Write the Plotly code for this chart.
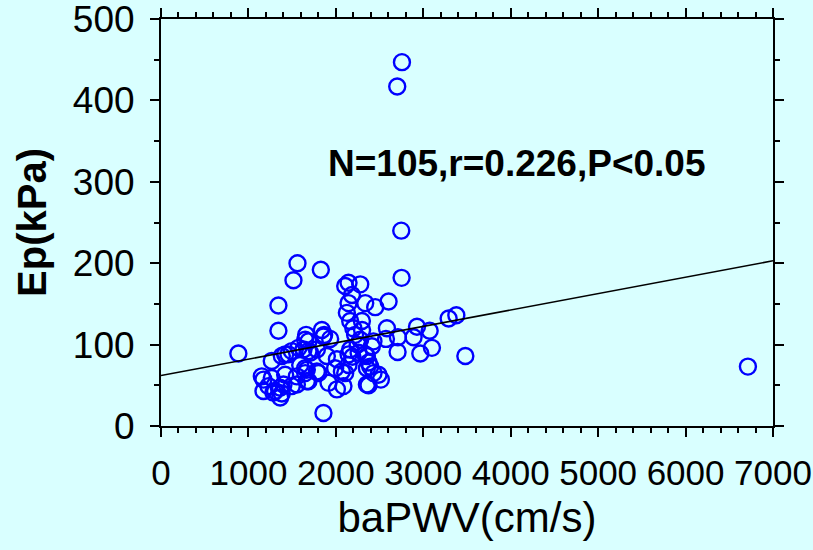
import plotly.graph_objects as go

# ---- data ----
bapwv = [
    2756, 2702, 2748, 6713, 885, 1858, 3481, 1561, 1828, 1515, 1343, 1343, 2752,
    2107, 2145, 2279, 2184, 2145, 2336, 2450, 2126, 2298, 2164, 2603,
    2584, 2928, 3073, 3290, 3378, 2889, 2710, 2573, 2706, 2966, 3099,
    1660, 1840, 1866, 1935, 1687, 1573, 1496, 1420, 1382, 1630, 1706, 1783, 1267,
    1897, 2012, 1458, 1687, 1649, 1858,
    2145, 2164, 2278, 2412, 2355, 2374, 2145, 2336, 2393, 2220, 2250, 2300, 2190,
    2430, 2200, 2260,
    1592, 1649, 1783, 1992, 2107, 2355, 2431, 2488, 2515, 2374, 1916, 2012, 2087,
    1420, 1554, 1649, 1668, 1496, 1401, 1153, 1172, 1172, 1229, 1305, 1363, 1382,
    1267, 1363, 1286, 1668, 1554, 1687, 1801, 2069, 2355,
]
ep = [
    447, 417, 240, 73, 89, 16, 86, 200, 192, 179, 148, 117, 182,
    172, 176, 174, 161, 151, 151, 146, 139, 129, 129, 153,
    120, 122, 117, 132, 136, 109, 109, 107, 91, 89, 96,
    112, 118, 112, 107, 104, 96, 92, 88, 86, 94, 90, 94, 80,
    86, 82, 88, 92, 106, 110,
    88, 94, 106, 98, 86, 78, 75, 88, 73, 112, 100, 118, 85,
    104, 120, 90,
    75, 71, 67, 71, 65, 71, 65, 63, 57, 50, 53, 45, 49,
    63, 61, 65, 55, 49, 51, 61, 57, 43, 49, 43, 35, 40,
    59, 47, 41, 69, 51, 55, 65, 67, 51,
]
fit_x = [0, 7000]
fit_y = [62, 203]
x_ticks = [0, 1000, 2000, 3000, 4000, 5000, 6000, 7000]
y_ticks = [0, 100, 200, 300, 400, 500]
stats_text = "N=105,r=0.226,P&lt;0.05"

FONT = "Liberation Sans, Arial, sans-serif"
BG = "#D9FFFF"

fig = go.Figure()
fig.add_trace(go.Scatter(
    x=bapwv, y=ep, mode="markers",
    marker=dict(symbol="circle-open", size=16, color="#0000FF",
                line=dict(width=2.4, color="#0000FF")),
    showlegend=False, cliponaxis=False,
))
fig.add_trace(go.Scatter(
    x=fit_x, y=fit_y, mode="lines",
    line=dict(color="black", width=1.6), showlegend=False,
))

fig.add_annotation(
    x=4076, y=323, xref="x", yref="y", text="<b>" + stats_text + "</b>",
    showarrow=False, xanchor="center", yanchor="middle",
    font=dict(family=FONT, size=37, color="black"),
)

axis_common = dict(
    showline=True, linecolor="black", linewidth=2, mirror="ticks",
    ticks="outside", ticklen=9, tickwidth=2, tickcolor="black",
    showgrid=False, zeroline=False, ticklabeloverflow="allow",
)

fig.update_xaxes(
    range=[0, 7000], tickvals=x_ticks, ticktext=[str(v) for v in x_ticks],
    tickfont=dict(family=FONT, size=35, color="black"),
    minor=dict(dtick=200, ticks="outside", ticklen=5, tickwidth=2, tickcolor="black"),
    ticklabelstandoff=6,
    title=dict(text="baPWV(cm/s)", font=dict(family=FONT, size=42, color="black"), standoff=12),
    **axis_common,
)
fig.update_yaxes(
    range=[0, 500], tickvals=y_ticks, ticktext=[str(v) for v in y_ticks],
    tickfont=dict(family=FONT, size=37, color="black"),
    minor=dict(dtick=50, ticks="outside", ticklen=5, tickwidth=2, tickcolor="black"),
    ticklabelstandoff=8,
    title=dict(text="<b>Ep(kPa)</b>", font=dict(family=FONT, size=40, color="black"), standoff=14),
    **axis_common,
)

fig.update_layout(
    width=813, height=550,
    margin=dict(l=161, r=40, t=19, b=124, autoexpand=False),
    paper_bgcolor=BG, plot_bgcolor=BG,
)

fig.write_html(
    "out.html",
    config={"displayModeBar": False},
    post_script="document.body.style.margin='0';document.body.style.background='%s';" % BG,
)
